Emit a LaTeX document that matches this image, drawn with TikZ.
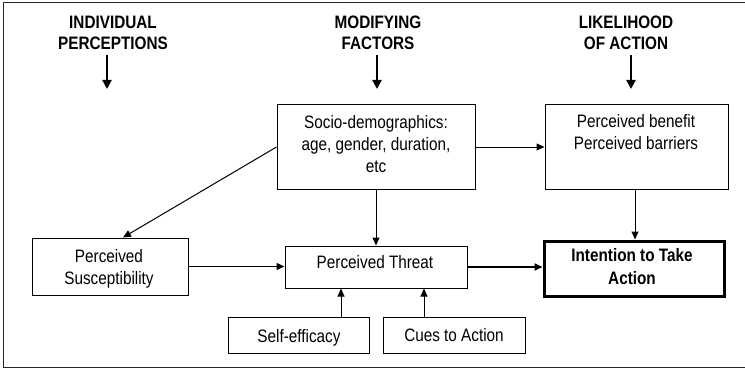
\documentclass[tikz,border=0pt]{standalone}
\usepackage{fontspec}
\setmainfont{Liberation Sans}[FakeStretch=0.85]
\usetikzlibrary{arrows.meta,calc}
\begin{document}
\begin{tikzpicture}[x=1pt,y=-1pt,
  box/.style={draw,line width=1pt,inner sep=0pt},
  txt/.style={inner sep=0pt,align=center,font=\fontsize{18}{22}\selectfont},
  hdr/.style={inner sep=0pt,align=center,font=\fontsize{18}{21}\selectfont\bfseries},
  conn/.style={line width=1pt,-{Triangle[length=8pt,width=7pt]}},
  harrow/.style={line width=2.2pt,-{Triangle[length=9pt,width=9pt]}}]
\useasboundingbox (0,0) rectangle (745,369);
\draw[line width=1pt,black!85] (747,3) -- (3,3) -- (3,367) -- (747,367);

% headers
\node[hdr] (h1) at (113,33) {INDIVIDUAL\\PERCEPTIONS};
\node[hdr] (h2) at (378,33) {MODIFYING\\FACTORS};
\node[hdr] (h3) at (626,32.5) {LIKELIHOOD\\OF ACTION};
\coordinate (h1s) at (107,55); \coordinate (h1e) at (107,89);
\coordinate (h2s) at (377,55); \coordinate (h2e) at (377,89);
\coordinate (h3s) at (631,55); \coordinate (h3e) at (631,89);
\draw[harrow] (h1s) -- (h1e);
\draw[harrow] (h2s) -- (h2e);
\draw[harrow] (h3s) -- (h3e);

% boxes
\node[box,minimum width=198pt,minimum height=84pt] (socio) at (376,147) {};
\node[box,minimum width=183pt,minimum height=84pt] (benefit) at (636.5,147) {};
\node[box,minimum width=156pt,minimum height=57pt] (susc) at (110,266.5) {};
\node[box,minimum width=182pt,minimum height=42pt] (threat) at (376,267) {};
\node[box,line width=3pt,minimum width=180pt,minimum height=55pt] (intent) at (634,268.5) {};
\node[box,minimum width=141pt,minimum height=36pt] (self) at (298.5,335) {};
\node[box,minimum width=142pt,minimum height=36pt] (cues) at (454,335) {};

% texts
\node[txt] (sociot) at (376,144.5) {Socio-demographics:\\age, gender, duration,\\etc};
\node[txt] (benefitt) at (636,132.5) {Perceived benefit\\Perceived barriers};
\node[txt] (susct) at (109,268.4) {Perceived\\Susceptibility};
\node[txt] (threatt) at (375,262.5) {Perceived Threat};
\node[txt,font=\fontsize{18}{23}\selectfont\bfseries] (intentt) at (632,266.5) {Intention to Take\\Action};
\node[txt] (selft) at (299,337.4) {Self-efficacy};
\node[txt] (cuest) at (454,335.5) {Cues to Action};

% connector anchors
\coordinate (suscin) at ($(susc.north)+(13,0)$);
\coordinate (benout) at ($(benefit.south)+(-1.5,0)$);
\coordinate (selfout) at ($(self.north)+(42.5,0)$);
\coordinate (cuesout) at ($(cues.north)+(-30,0)$);

% connectors
\draw[conn] (socio.west) -- (suscin);
\draw[conn] (socio.south) -- (threat.north);
\draw[conn] (socio.east) -- (benefit.west);
\draw[conn] (benout) -- (benout |- intent.north);
\draw[conn] (susc.east) -- (susc.east -| threat.west);
\draw[conn,line width=1.8pt] (threat.east) -- (threat.east -| intent.west);
\draw[conn] (selfout) -- (selfout |- threat.south);
\draw[conn] (cuesout) -- (cuesout |- threat.south);
\end{tikzpicture}
\end{document}
